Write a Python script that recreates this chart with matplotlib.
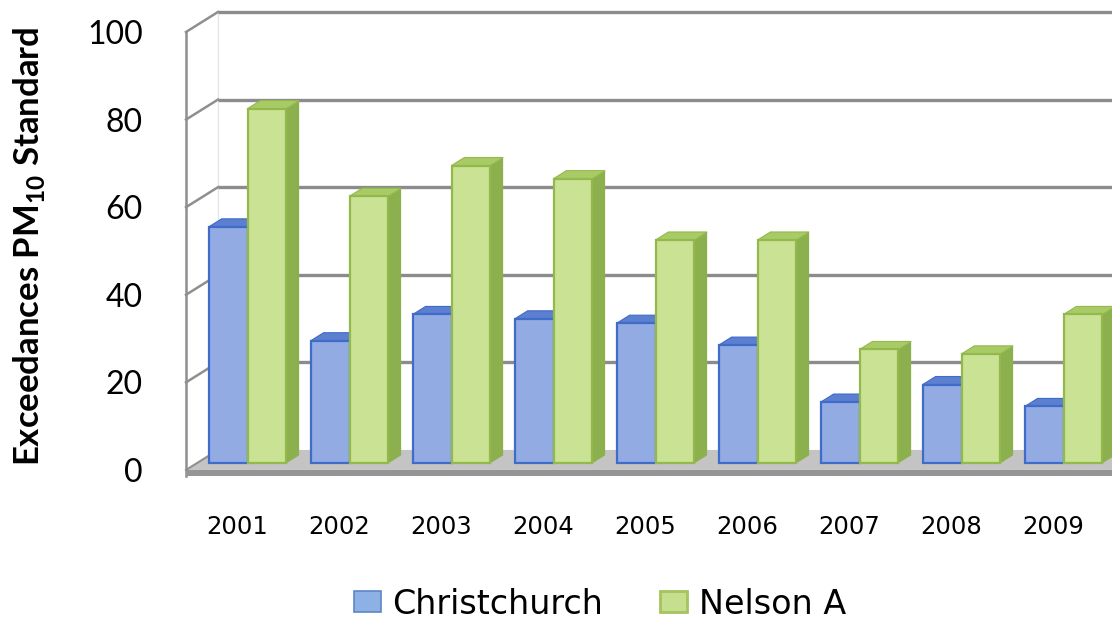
import matplotlib
matplotlib.use("Agg")
import matplotlib.pyplot as plt
from matplotlib.patches import Polygon, Patch

years = ['2001', '2002', '2003', '2004', '2005', '2006', '2007', '2008', '2009']
christchurch = [54, 28, 34, 33, 32, 27, 14, 18, 13]
nelson = [81, 61, 68, 65, 51, 51, 26, 25, 34]
yticks = [0, 20, 40, 60, 80, 100]

# oblique "3-D" look: one unit of depth moves (DX, DY) in data units
DX, DY = 0.314, 4.57
D0, DB = 0.33, 0.40      # depth at bar front face, bar depth
BW = 0.38                # bar width
XMAX = 9.6

blue = dict(front='#93ABE3', top='#5C7FD0', side='#4F72C0', edge='#3F6BC9')
green = dict(front='#C9E294', top='#A9CB66', side='#8DB04E', edge='#93B94C')

fig = plt.figure(figsize=(11.12, 6.21), dpi=100)
fig.patch.set_facecolor('white')
ax = fig.add_axes([186 / 1112, (621 - 483.1) / 621, (237 + 102 * (XMAX + 0.5) - 186) / 1112, 477.4 / 621])
ax.set_xlim(-0.5, XMAX + 0.5)
ax.set_ylim(-3, 106)
ax.patch.set_alpha(0)
for s in ax.spines.values():
    s.set_visible(False)


def poly(pts, fc, ec='none', lw=0, z=1):
    ax.add_patch(Polygon(pts, closed=True, facecolor=fc, edgecolor=ec, linewidth=lw, zorder=z, clip_on=False))


# floor
x0, x1 = -0.5, XMAX + 0.5
poly([(x0, 0), (x1, 0), (x1 + DX, DY), (x0 + DX, DY)], '#C4C4C4', z=1)
poly([(x0, -1.4), (x1, -1.4), (x1, 0), (x0, 0)], '#959595', z=1)

# back wall gridlines and left wall diagonals
for v in yticks:
    if v == 0:
        continue
    ax.plot([x0 + DX, x1 + DX], [v + DY, v + DY], color='#8C8C8C', lw=2.4, zorder=0.5, clip_on=False,
            solid_capstyle='butt')
    ax.plot([x0, x0 + DX], [v, v + DY], color='#8F8F8F', lw=1.8, zorder=0.5, clip_on=False)
ax.plot([x0, x0], [-1.4, 100], color='#8F8F8F', lw=1.8, zorder=0.5, clip_on=False)
ax.plot([x0 + DX, x0 + DX], [DY, 100 + DY], color='#E6E6E6', lw=1.0, zorder=0.4, clip_on=False)
ax.plot([x0, x0 + DX], [0, DY], color='#8F8F8F', lw=1.5, zorder=1.1, clip_on=False)


def bar3d(xl, val, col, z):
    bx, by = xl + D0 * DX, D0 * DY
    top = val + by
    ddx, ddy = DB * DX, DB * DY
    # side face
    poly([(bx + BW, by), (bx + BW + ddx, by + ddy), (bx + BW + ddx, top + ddy), (bx + BW, top)],
         col['side'], z=z)
    # top face
    poly([(bx, top), (bx + BW, top), (bx + BW + ddx, top + ddy), (bx + ddx, top + ddy)],
         col['top'], col['edge'], 0.8, z=z + 0.01)
    # front face
    poly([(bx, by), (bx + BW, by), (bx + BW, top), (bx, top)], col['front'], col['edge'], 1.6, z=z + 0.02)


for i in range(len(years)):
    bar3d(i - BW, christchurch[i], blue, 2 + i * 0.1)
    bar3d(i, nelson[i], green, 2 + i * 0.1 + 0.05)

ax.set_yticks(yticks)
ax.set_yticklabels([str(v) for v in yticks], fontsize=23, family='Lato')
ax.set_xticks(range(len(years)))
ax.set_xticklabels(years, fontsize=17.5, family='DejaVu Sans')
ax.tick_params(axis='y', length=0, pad=31)
ax.tick_params(axis='x', length=0, pad=23)

fig.text(29 / 1112, 1 - 246 / 621, 'Exceedances PM$_{\\mathregular{10}}$ Standard',
         rotation=90, ha='center', va='center', fontsize=25, fontweight='bold', family='Lato')

handles = [Patch(facecolor='#8DB1E4', edgecolor='#5E86C8', lw=1.2, label='Christchurch'),
           Patch(facecolor='#C6DF8E', edgecolor='#A3C45E', lw=2.0, label='Nelson A')]
fig.legend(handles=handles, loc='center', bbox_to_anchor=(600 / 1112, 17 / 621), ncol=2, frameon=False,
           borderpad=0, handlelength=0.8, handleheight=0.6, handletextpad=0.36,
           columnspacing=1.7, prop={'family': 'DejaVu Sans', 'size': 24})

fig.savefig('out.png', dpi=100)
